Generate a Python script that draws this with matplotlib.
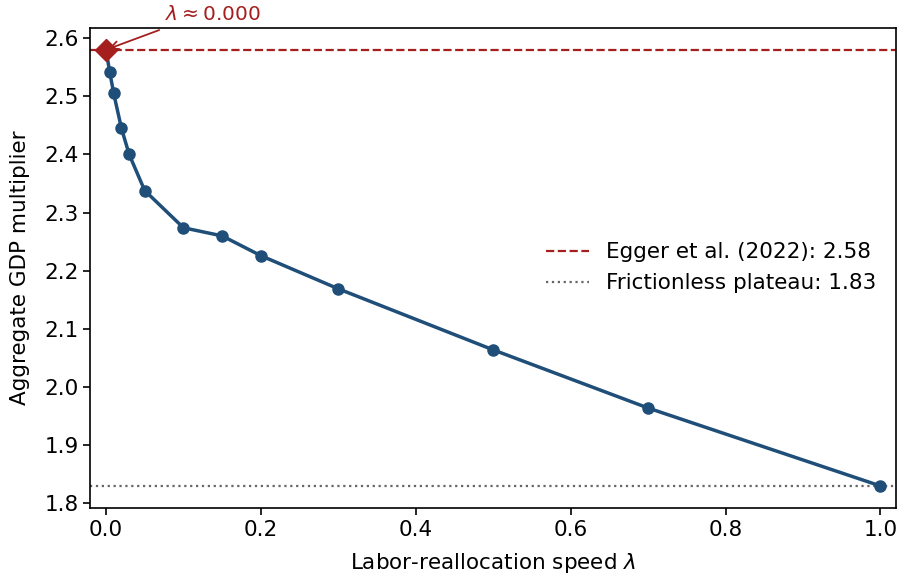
import numpy as np
import matplotlib
matplotlib.use('Agg')
import matplotlib.pyplot as plt

# Simulated aggregate multiplier along the reallocation speed grid
lam = [0.0, 0.005, 0.01, 0.02, 0.03, 0.05, 0.1, 0.15, 0.2, 0.3, 0.5, 0.7, 1.0]
multiplier = [2.58, 2.541, 2.505, 2.445, 2.400, 2.338, 2.274, 2.260, 2.226, 2.169, 2.064, 1.964, 1.83]

egger_value = 2.58
plateau_value = 1.83

line_color = '#1f4e79'
red = '#a51f1f'
fs = 15.5

fig = plt.figure(figsize=(9.01, 5.77), dpi=100)
ax = fig.add_axes([0.1004, 0.12, 0.894, 0.8315])

ax.plot(lam, multiplier, color=line_color, lw=2.5, marker='o', markersize=8, zorder=3)
ax.axhline(egger_value, color=red, ls='--', lw=1.6, label=f'Egger et al. (2022): {egger_value:.2f}')
ax.axhline(plateau_value, color='#666666', ls=':', lw=1.6, label=f'Frictionless plateau: {plateau_value:.2f}')

# Highlight the lambda -> 0 limit
ax.plot(lam[0], multiplier[0], marker='D', color=red, markersize=11, zorder=4)
ax.annotate(r'$\lambda \approx 0.000$', xy=(lam[0], multiplier[0]), xytext=(0.138, 2.64),
            ha='center', va='center', color=red, fontsize=14.5, annotation_clip=False,
            arrowprops=dict(arrowstyle='->', color=red, lw=1.3, relpos=(0.1, 0.0), shrinkA=6))

ax.set_xlim(-0.02, 1.02)
ax.set_xlabel(r'Labor-reallocation speed $\lambda$', fontsize=fs, labelpad=8)
ax.set_ylabel('Aggregate GDP multiplier', fontsize=fs, labelpad=10)
ax.tick_params(labelsize=fs, width=1.2, length=5)
for s in ax.spines.values():
    s.set_linewidth(1.2)
ax.legend(loc='center right', frameon=False, fontsize=fs)

fig.savefig('out.png', dpi=100)
